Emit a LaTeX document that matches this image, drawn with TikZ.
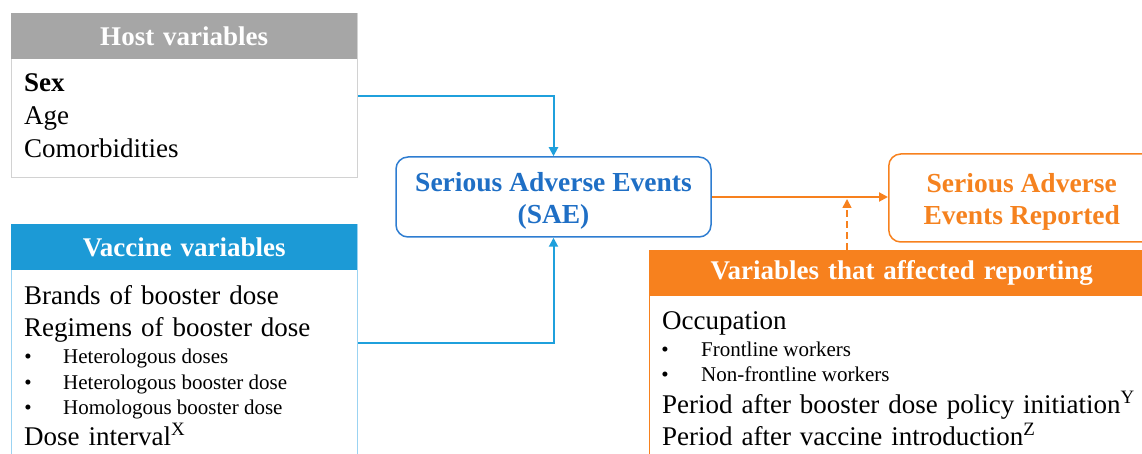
\documentclass[tikz,border=0pt]{standalone}
\usepackage{fontspec}
\setmainfont{Liberation Serif}
\usetikzlibrary{arrows.meta}
\definecolor{hostgray}{HTML}{A6A6A6}
\definecolor{hostline}{HTML}{D2D2D2}
\definecolor{vacblue}{HTML}{1C9AD6}
\definecolor{vacline}{HTML}{9BD3F2}
\definecolor{saeline}{HTML}{2E7DD1}
\definecolor{saetext}{HTML}{1F6FC5}
\definecolor{arrowblue}{HTML}{1FA0DC}
\definecolor{orbar}{HTML}{F7811E}
\definecolor{ortext}{HTML}{F5821F}
\newcommand\widespace{\spaceskip=0.33em plus 0.1em\relax}
\newcommand\toppad{\rule{0pt}{27pt}}

\begin{document}
\begin{tikzpicture}[x=1pt,y=-1pt,
  panel/.style={anchor=north west,inner sep=0pt,line width=1.3pt},
  headbar/.style={anchor=north west,inner sep=0pt,text=white,
    font=\fontsize{27}{32}\selectfont\bfseries\widespace},
  big/.style={anchor=base west,inner sep=0pt,
    font=\fontsize{27}{32}\selectfont\widespace},
  small/.style={anchor=base west,inner sep=0pt,font=\fontsize{21}{25}\selectfont},
  dot/.style={anchor=base,inner sep=0pt,font=\fontsize{21}{25}\selectfont},
  outcome/.style={rounded corners=12pt,line width=1.5pt,align=center,
    font=\fontsize{27.5}{32.5}\selectfont\bfseries},
  tip/.style={-{Triangle[length=9pt,width=9pt]},line width=2pt}]
  \clip (0,0) rectangle (1142,454);
  % host variables
  \node[panel,draw=hostline,minimum width=346pt,minimum height=164pt] (host) at (11,13) {};
  \node[headbar,fill=hostgray,minimum width=346pt,minimum height=46pt] (hosthead) at (11,13) {Host variables};
  \node[big] (sex) at (24,92) {\textbf{Sex}};
  \node[big] (age) at (24,125) {Age};
  \node[big] (comorb) at (24,158) {Comorbidities};
  % vaccine variables
  \node[panel,draw=vacline,minimum width=346pt,minimum height=236pt] (vac) at (11,224) {};
  \node[headbar,fill=vacblue,minimum width=346pt,minimum height=46pt] (vachead) at (11,224) {Vaccine variables};
  \node[big] (brands) at (24,304) {Brands of booster dose};
  \node[big] (regimens) at (24,336) {Regimens of booster dose};
  \foreach \y/\t [count=\n] in {363/Heterologous doses,389/Heterologous booster dose,414/Homologous booster dose} {
    \node[dot] (vdot\n) at (28,\y) {•};
    \node[small] (vsub\n) at (63,\y) {\t};
  }
  \node[big] (interval) at (24,445) {Dose interval\textsuperscript{X}};
  % reporting variables
  \node[panel,draw=orbar,minimum width=505pt,minimum height=215pt] (rep) at (649,250) {};
  \node[headbar,fill=orbar,minimum width=505pt,minimum height=46pt] (rephead) at (649,250) {Variables that affected reporting};
  \node[big] (occup) at (662,329) {Occupation};
  \foreach \y/\t [count=\n] in {356/Frontline workers,381/Non-frontline workers} {
    \node[dot] (rdot\n) at (665,\y) {•};
    \node[small] (rsub\n) at (701,\y) {\t};
  }
  \node[big] (booster) at (662,413) {Period after booster dose policy initiation\textsuperscript{Y}};
  \node[big] (intro) at (662,445) {Period after vaccine introduction\textsuperscript{Z}};
  % outcomes
  \node[outcome,draw=saeline,text=saetext,minimum width=315pt,minimum height=80pt] (sae) at (553.5,197) {\toppad Serious Adverse Events\\(SAE)};
  \node[outcome,draw=orbar,text=ortext,anchor=west,minimum width=266pt,minimum height=88pt] (reported) at (888,198) {\toppad Serious Adverse\\Events Reported};
  % connectors
  \draw[tip,arrowblue] (host.east) -| (sae.north);
  \draw[tip,arrowblue] (vac.east) -| (sae.south);
  \draw[tip,orbar] (sae.east) -- (sae.east -| reported.west);
  \coordinate (tap) at (847,199);
  \draw[tip,orbar,dash pattern=on 7pt off 4pt,line width=1.6pt] (tap |- rephead.north) -- (tap);
\end{tikzpicture}
\end{document}
